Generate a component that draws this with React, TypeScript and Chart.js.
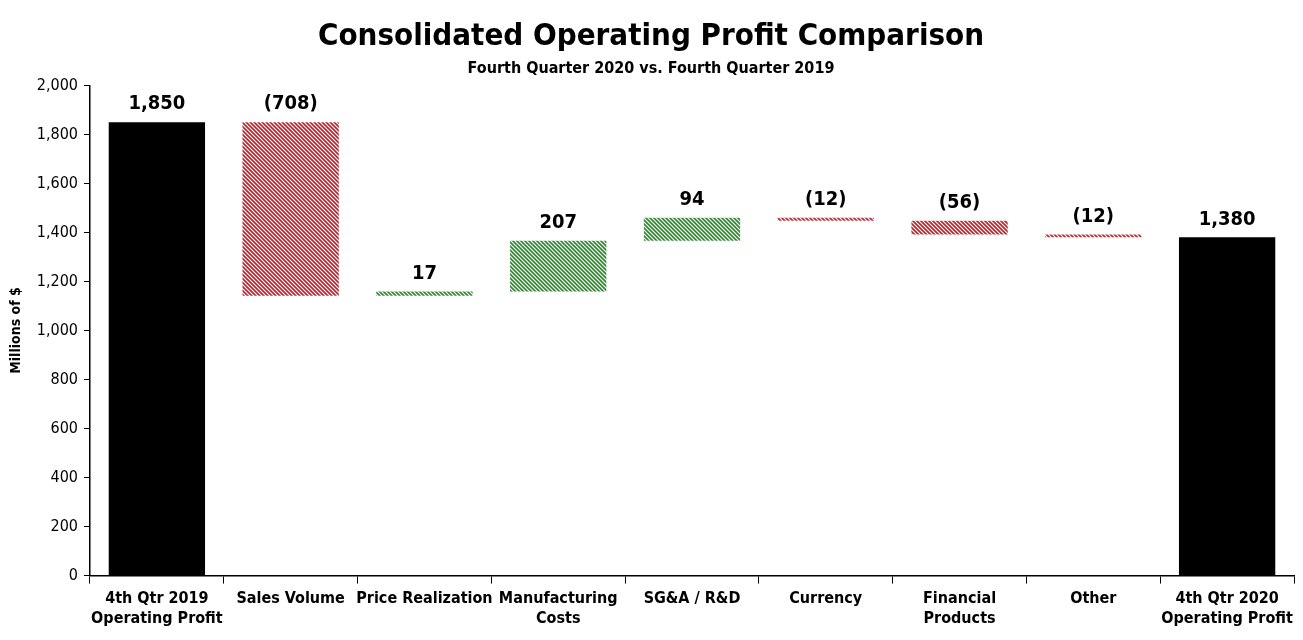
import { useEffect, useRef } from "react";
import { Chart, registerables } from "chart.js";

Chart.register(...registerables);

const categories = [
  ["4th Qtr 2019", "Operating Profit"],
  "Sales Volume",
  "Price Realization",
  ["Manufacturing", "Costs"],
  "SG&A / R&D",
  "Currency",
  ["Financial", "Products"],
  "Other",
  ["4th Qtr 2020", "Operating Profit"],
];
const startTotal = 1850;
const changes = [-708, 17, 207, 94, -12, -56, -12];
const endTotal = 1380;
const yTicks = [0, 200, 400, 600, 800, 1000, 1200, 1400, 1600, 1800, 2000];

const FONT = "'DejaVu Sans Condensed', 'Liberation Sans Narrow', 'Arial Narrow', sans-serif";
const RED = "#c0212b";
const GREEN = "#2a8a2a";

function hatch(color: string) {
  const c = document.createElement("canvas");
  c.width = 4;
  c.height = 4;
  const g = c.getContext("2d")!;
  g.fillStyle = "#ffffff";
  g.fillRect(0, 0, 4, 4);
  g.strokeStyle = color;
  g.lineWidth = 1.7;
  g.beginPath();
  g.moveTo(-1, -1);
  g.lineTo(5, 5);
  g.moveTo(-1, 3);
  g.lineTo(1, 5);
  g.moveTo(3, -1);
  g.lineTo(5, 1);
  g.stroke();
  return g.createPattern(c, "repeat")!;
}

function fmt(v: number) {
  const s = Math.abs(v).toLocaleString("en-US");
  return v < 0 ? `(${s})` : s;
}

export default function App() {
  const ref = useRef<HTMLCanvasElement>(null);

  useEffect(() => {
    document.body.style.margin = "0";
    if (!ref.current) return;

    const ranges: [number, number][] = [[0, startTotal]];
    const labels: string[] = [fmt(startTotal)];
    const colors: (string | CanvasPattern)[] = ["#000000"];
    const red = hatch(RED);
    const green = hatch(GREEN);
    let run = startTotal;
    changes.forEach((d) => {
      const next = run + d;
      ranges.push([Math.min(run, next), Math.max(run, next)]);
      labels.push(fmt(d));
      colors.push(d < 0 ? red : green);
      run = next;
    });
    ranges.push([0, endTotal]);
    labels.push(fmt(endTotal));
    colors.push("#000000");

    const valueLabels = {
      id: "valueLabels",
      afterDatasetsDraw(chart: Chart) {
        const ctx = chart.ctx;
        const meta = chart.getDatasetMeta(0);
        ctx.save();
        ctx.font = `bold 20px ${FONT}`;
        ctx.fillStyle = "#000";
        ctx.textAlign = "center";
        ctx.textBaseline = "bottom";
        meta.data.forEach((el: any, i: number) => {
          const top = Math.min(el.y, el.base);
          ctx.fillText(labels[i], el.x, top - 8);
        });
        ctx.restore();
      },
    };

    const chart = new Chart(ref.current, {
      type: "bar",
      data: {
        labels: categories as any,
        datasets: [
          {
            data: ranges as any,
            backgroundColor: colors as any,
            borderWidth: 0,
            barPercentage: 0.72,
            categoryPercentage: 1,
          },
        ],
      },
      options: {
        animation: false,
        responsive: false,
        layout: { padding: { left: 8, right: 9, top: 0, bottom: 6 } },
        plugins: {
          legend: { display: false },
          tooltip: { enabled: false },
          title: {
            display: true,
            text: "Consolidated Operating Profit Comparison",
            color: "#000",
            font: { family: FONT, size: 31, weight: "bold" },
            padding: { top: 18, bottom: 0 },
          },
          subtitle: {
            display: true,
            text: "Fourth Quarter 2020 vs. Fourth Quarter 2019",
            color: "#000",
            font: { family: FONT, size: 16, weight: "bold" },
            padding: { top: 4, bottom: 7 },
          },
        },
        scales: {
          x: {
            grid: {
              display: true,
              drawOnChartArea: false,
              drawTicks: true,
              tickLength: 8,
              color: "#000",
              offset: true,
            },
            border: { color: "#000", width: 1.5 },
            ticks: {
              color: "#000",
              font: { family: FONT, size: 16, weight: "bold" },
              maxRotation: 0,
              autoSkip: false,
              padding: 6,
            },
          },
          y: {
            min: 0,
            max: 2000,
            afterBuildTicks(axis: any) {
              axis.ticks = yTicks.map((v) => ({ value: v }));
            },
            grid: {
              display: true,
              drawOnChartArea: false,
              drawTicks: true,
              tickLength: 6,
              color: "#000",
            },
            border: { color: "#000", width: 1.5 },
            ticks: {
              color: "#000",
              font: { family: FONT, size: 16 },
              padding: 6,
              callback: (v: any) => Number(v).toLocaleString("en-US"),
            },
            title: {
              display: true,
              text: "Millions of $",
              color: "#000",
              font: { family: FONT, size: 14, weight: "bold" },
              padding: { top: 0, bottom: 6 },
            },
          },
        },
      },
      plugins: [valueLabels],
    });
    return () => chart.destroy();
  }, []);

  return (
    <div style={{ width: 1303, height: 640, background: "#fff" }}>
      <canvas ref={ref} width={1303} height={640} style={{ width: 1303, height: 640 }} />
    </div>
  );
}
